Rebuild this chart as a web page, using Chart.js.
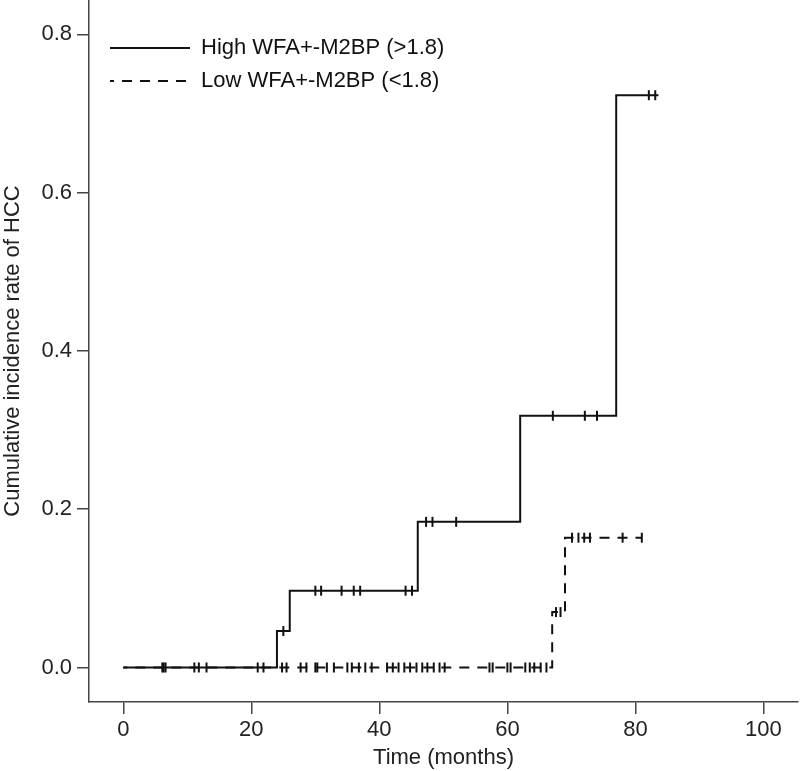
<!DOCTYPE html>
<html>
<head>
<meta charset="utf-8">
<script src="https://cdn.jsdelivr.net/npm/chart.js@4.4.1/dist/chart.umd.min.js"></script>
<style>
  html, body { margin: 0; padding: 0; background: #fff; }
</style>
</head>
<body>
<canvas id="kmChart" width="800" height="771"></canvas>
<script>
// Step curves: time (months) where the cumulative rate changes, and the new rate
const highTimes = [0, 24, 26, 46, 62, 77, 83.6];
const highRates = [0, 0.046, 0.097, 0.184, 0.318, 0.723, 0.723];
const lowTimes = [0, 67, 69, 81];
const lowRates = [0, 0.070, 0.164, 0.164];

// Censored observations (months)
const highCensor = [6.3, 11.1, 21.0, 25.0, 30.0, 30.9, 34.1, 36.0, 37.0, 44.1, 45.1,
    47.3, 48.3, 52.0, 67.1, 72.1, 74.0, 82.1, 83.1];
const lowCensor = [6.1, 6.6, 11.8, 13.0, 21.9, 24.8, 25.5, 27.7, 28.6, 30.0, 30.3, 31.8,
    32.9, 35.0, 35.7, 36.8, 37.8, 38.8, 41.2, 42.1, 43.0, 43.9, 44.8, 45.8, 46.7, 47.5,
    48.5, 49.4, 50.2, 57.2, 57.7, 60.0, 60.5, 62.8, 63.5, 64.2, 65.2, 66.1,
    67.6, 68.3, 70.1, 71.1, 72.0, 72.9, 78.0, 81.0];

const xTicks = [0, 20, 40, 60, 80, 100];
const yTicks = [0, 0.2, 0.4, 0.6, 0.8];

function rateAt(times, rates, t) {
    let r = rates[0];
    times.forEach((tm, i) => { if (t >= tm) r = rates[i]; });
    return r;
}

const stepPoints = (times, rates) => times.map((t, i) => ({ x: t, y: rates[i] }));
const censorPoints = (list, times, rates) => list.map(t => ({ x: t, y: rateAt(times, rates, t) }));

Chart.defaults.font.family = "'Liberation Sans', Arial, sans-serif";
Chart.defaults.font.size = 22;
Chart.defaults.color = '#222';

const axisGray = '#444';

// move the legend into the top-left corner of the plot
const legendShift = {
    id: 'legendShift',
    afterLayout(chart) {
        const lg = chart.legend;
        const area = chart.chartArea;
        const w = lg.width, h = lg.height;
        lg.left = area.left + 10;
        lg.top = area.top + 26;
        lg.right = lg.left + w;
        lg.bottom = lg.top + h;
    }
};

const ctx = document.getElementById('kmChart').getContext('2d');

const kmChart = new Chart(ctx, {
    type: 'scatter',
    data: {
        datasets: [
            {
                label: 'High WFA+-M2BP (>1.8)',
                data: stepPoints(highTimes, highRates),
                showLine: true,
                stepped: 'before',
                borderColor: '#111',
                backgroundColor: 'transparent',
                borderWidth: 2,
                pointRadius: 0,
                pointHoverRadius: 0
            },
            {
                label: 'Low WFA+-M2BP (<1.8)',
                data: stepPoints(lowTimes, lowRates),
                showLine: true,
                stepped: 'before',
                borderColor: '#111',
                backgroundColor: 'transparent',
                borderWidth: 2,
                borderDash: [10, 8],
                borderDashOffset: 6,
                pointRadius: 0,
                pointHoverRadius: 0
            },
            {
                label: 'high censored',
                data: censorPoints(highCensor, highTimes, highRates),
                showLine: false,
                pointStyle: 'line',
                rotation: 90,
                pointRadius: 5,
                pointBorderWidth: 2,
                borderColor: '#111'
            },
            {
                label: 'low censored',
                data: censorPoints(lowCensor, lowTimes, lowRates),
                showLine: false,
                pointStyle: 'line',
                rotation: 90,
                pointRadius: 5,
                pointBorderWidth: 2,
                borderColor: '#111'
            }
        ]
    },
    options: {
        responsive: false,
        animation: false,
        layout: { autoPadding: false, padding: { top: 0, left: 0, right: 2, bottom: 0 } },
        plugins: {
            tooltip: { enabled: false },
            legend: {
                position: 'chartArea',
                align: 'start',
                labels: {
                    filter: item => item.datasetIndex < 2,
                    boxWidth: 80,
                    boxHeight: 0,
                    padding: 11,
                    color: '#111',
                    font: { size: 22 }
                }
            }
        },
        scales: {
            x: {
                type: 'linear',
                min: -5.36,
                max: 105.4,
                afterFit: scale => {
                    scale.height = 69;
                    scale.paddingLeft = 0;
                    scale.paddingRight = 0;
                },
                afterBuildTicks: scale => { scale.ticks = xTicks.map(v => ({ value: v })); },
                ticks: {
                    autoSkip: false,
                    maxRotation: 0,
                    padding: 3,
                    color: '#222',
                    font: { size: 22 }
                },
                grid: {
                    drawOnChartArea: false,
                    drawTicks: true,
                    tickLength: 12,
                    color: axisGray,
                    lineWidth: 1.5
                },
                border: { display: true, color: axisGray, width: 1.5 },
                title: {
                    display: true,
                    text: 'Time (months)',
                    color: '#222',
                    padding: { top: 0, bottom: 0 },
                    font: { size: 22 }
                }
            },
            y: {
                type: 'linear',
                min: -0.0436,
                max: 0.8433,
                afterFit: scale => {
                    scale.width = 89;
                    scale.paddingTop = 0;
                    scale.paddingBottom = 0;
                },
                afterBuildTicks: scale => { scale.ticks = yTicks.map(v => ({ value: v })); },
                ticks: {
                    padding: 5,
                    color: '#222',
                    font: { size: 22 },
                    callback: v => Number(v).toFixed(1)
                },
                grid: {
                    drawOnChartArea: false,
                    drawTicks: true,
                    tickLength: 12,
                    color: axisGray,
                    lineWidth: 1.5
                },
                border: { display: true, color: axisGray, width: 1.5 },
                title: {
                    display: true,
                    text: 'Cumulative incidence rate of HCC',
                    color: '#222',
                    padding: { top: 0, bottom: 0 },
                    font: { size: 22 }
                }
            }
        }
    },
    plugins: [legendShift]
});
</script>
</body>
</html>
